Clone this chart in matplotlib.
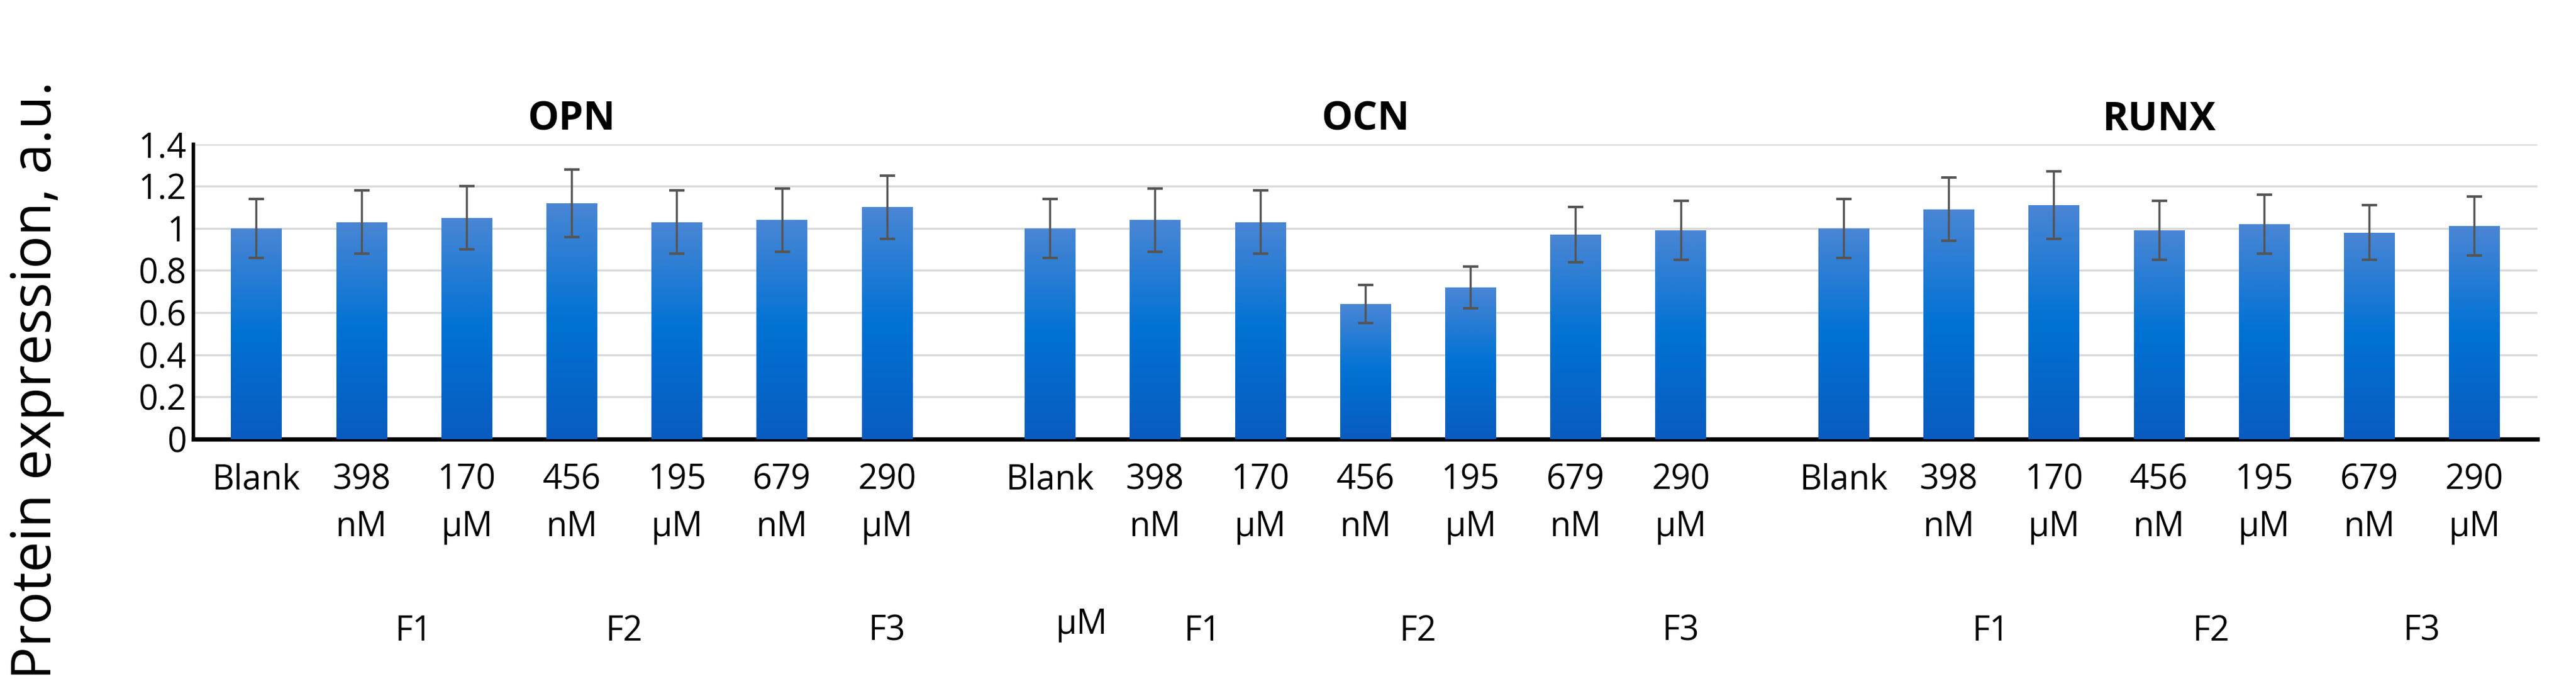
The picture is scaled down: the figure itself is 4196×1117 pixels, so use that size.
import matplotlib
matplotlib.use("Agg")
import matplotlib.pyplot as plt
import numpy as np
from matplotlib.colors import LinearSegmentedColormap

groups = ["OPN", "OCN", "RUNX"]
labels = ["Blank", "398\nnM", "170\nµM", "456\nnM", "195\nµM", "679\nnM", "290\nµM"]
opn = [1.00, 1.03, 1.05, 1.12, 1.03, 1.04, 1.10]
opn_err = [0.14, 0.15, 0.15, 0.16, 0.15, 0.15, 0.15]
ocn = [1.00, 1.04, 1.03, 0.64, 0.72, 0.97, 0.99]
ocn_err = [0.14, 0.15, 0.15, 0.09, 0.10, 0.13, 0.14]
runx = [1.00, 1.09, 1.11, 0.99, 1.02, 0.98, 1.01]
runx_err = [0.14, 0.15, 0.16, 0.14, 0.14, 0.13, 0.14]
values = [opn, ocn, runx]
errors = [opn_err, ocn_err, runx_err]
# F labels position (in bar slots) per group
flabel_pos = [[1.5, 3.5, 6.0], [1.45, 3.5, 6.0], [1.4, 3.5, 5.5]]

fonts = ["Liberation Sans Narrow", "Open Sans", "DejaVu Sans"]
plt.rcParams['font.family'] = fonts

fig = plt.figure(figsize=(41.96, 11.17), dpi=100)
ax = fig.add_axes([0.075, 0.36, 0.91, 0.43])

cmap = LinearSegmentedColormap.from_list("g", ["#0a5cbf", "#0072d4", "#4a86d4"])
grad = np.linspace(0, 1, 256).reshape(-1, 1)

offset = 7.55
width = 0.48
xs_all, labs_all = [], []
for g in range(3):
    xs = np.arange(7) + g * offset
    bars = ax.bar(xs, values[g], width=width, color="#0070d0", zorder=2)
    for b in bars:
        x0, y0, w, h = b.get_x(), b.get_y(), b.get_width(), b.get_height()
        im = ax.imshow(grad, cmap=cmap, origin="lower", aspect="auto",
                       extent=[x0, x0 + w, y0, y0 + h], zorder=3)
        im.set_clip_path(b)
    ax.errorbar(xs, values[g], yerr=errors[g], fmt="none", ecolor="#555555",
                elinewidth=2.5, capsize=9, capthick=3, zorder=4)
    xs_all += list(xs)
    labs_all += labels
    ax.text(xs.mean(), 1.42, groups[g], ha="center", va="bottom",
            fontsize=46, fontweight="bold", family=["Open Sans", "DejaVu Sans"])
    for fx, fl in zip(flabel_pos[g], ["F1", "F2", "F3"]):
        ax.text(g * offset + fx, -0.83, fl, ha="center", va="top", fontsize=40)

ax.text(1 * offset + 0.3, -0.8, "µM", ha="center", va="top", fontsize=40)

ax.set_xticks(xs_all)
ax.set_xticklabels(labs_all, fontsize=40, linespacing=1.45, va="top")
ax.tick_params(axis="x", length=0, pad=28)
ax.tick_params(axis="y", length=0, labelsize=40, pad=8)
ax.set_ylim(0, 1.4)
ax.set_yticks(np.arange(0, 1.41, 0.2))
ax.set_yticklabels(["0", "0.2", "0.4", "0.6", "0.8", "1", "1.2", "1.4"])
ax.set_xlim(-0.6, 2 * offset + 6.6)
ax.yaxis.grid(True, color="#d9d9d9", linewidth=2.5, zorder=0)
ax.set_axisbelow(True)
for s in ["top", "right"]:
    ax.spines[s].set_visible(False)
ax.spines["left"].set_linewidth(4)
ax.spines["bottom"].set_linewidth(5)
ax.set_ylabel("Protein expression, a.u.", fontsize=64, labelpad=20,
              family=["Open Sans", "DejaVu Sans"])
ax.yaxis.set_label_coords(-0.055, 0.2)

fig.savefig("out.png", dpi=100)
